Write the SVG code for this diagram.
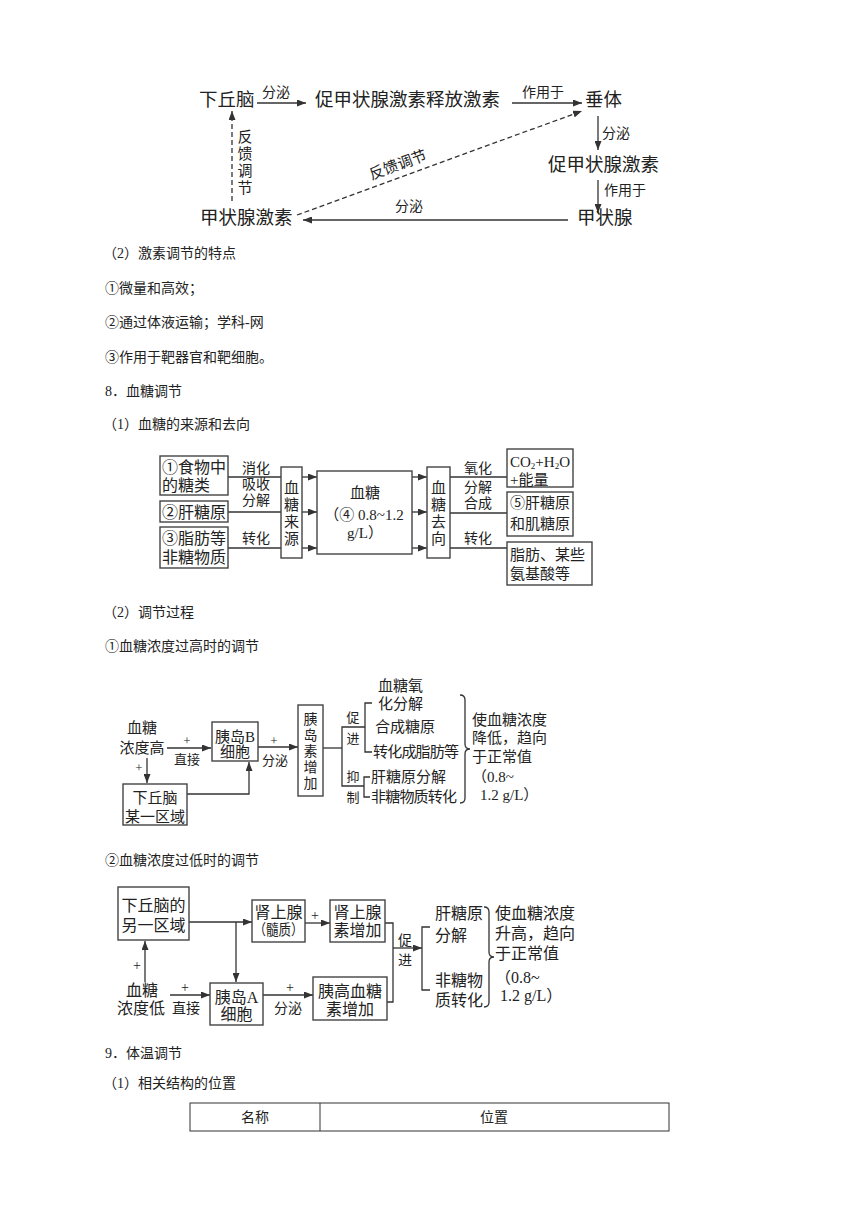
<svg xmlns="http://www.w3.org/2000/svg" width="860" height="1216" viewBox="0 0 860 1216">
<style>
text{font-family:"Liberation Serif","Noto Sans CJK SC",serif;fill:#222;dominant-baseline:central}
.t18{font-size:18.5px}
.t16{font-size:16px}
.t15{font-size:15px}
.t14{font-size:14px}
.t13{font-size:13px}
.m{text-anchor:middle}
.ln{stroke:#333;stroke-width:1.3;fill:none}
.ar{stroke:#333;stroke-width:1.3;fill:none;marker-end:url(#ah)}
.da{stroke:#333;stroke-width:1.3;fill:none;stroke-dasharray:5,3;marker-end:url(#ah)}
.bx{fill:#fff;stroke:#444;stroke-width:1.4}
</style>
<defs>
<marker id="ah" markerUnits="userSpaceOnUse" markerWidth="9" markerHeight="7" refX="9" refY="3.5" orient="auto"><path d="M0,0 L9,3.5 L0,7 z" fill="#333"/></marker>
</defs>
<rect width="860" height="1216" fill="#fff"/>

<!-- top diagram -->
<g id="connectors-top">
<line class="ar" x1="257" y1="103" x2="306" y2="103"/>
<line class="ar" x1="512" y1="103" x2="582" y2="103"/>
<line class="ar" x1="598" y1="116" x2="598" y2="150"/>
<line class="ar" x1="598" y1="180" x2="598" y2="213"/>
<line class="ar" x1="568" y1="220" x2="303" y2="220"/>
<line class="da" x1="232" y1="201" x2="232" y2="111"/>
<line class="da" x1="297" y1="215" x2="582" y2="111"/>
<text class="t14" x="262" y="92">分泌</text>
<text class="t14" x="522" y="92">作用于</text>
<text class="t14" x="602" y="133">分泌</text>
<text class="t14" x="604" y="190">作用于</text>
<text class="t14" x="395" y="206">分泌</text>
<g class="t15 m"><text x="245" y="137">反</text><text x="245" y="154">馈</text><text x="245" y="171">调</text><text x="245" y="188">节</text></g>
<text class="t15 m" x="398" y="165" transform="rotate(-20 398 165)">反馈调节</text>
</g>
<g id="n-xqn"><text class="t18" x="199" y="100">下丘脑</text></g>
<g id="n-trh"><text class="t18" x="315" y="100">促甲状腺激素释放激素</text></g>
<g id="n-ct"><text class="t18" x="585" y="100">垂体</text></g>
<g id="n-tsh"><text class="t18" x="548" y="165">促甲状腺激素</text></g>
<g id="n-jzx"><text class="t18" x="577" y="218">甲状腺</text></g>
<g id="n-jzxjs"><text class="t18" x="200" y="218">甲状腺激素</text></g>

<!-- body text -->
<g id="body">
<text class="t14" x="103" y="253">（2）激素调节的特点</text>
<text class="t14" x="105" y="288">①微量和高效；</text>
<text class="t14" x="105" y="322">②通过体液运输；学科-网</text>
<text class="t14" x="105" y="357">③作用于靶器官和靶细胞。</text>
<text class="t14" x="105" y="391">8．血糖调节</text>
<text class="t14" x="103" y="424">（1）血糖的来源和去向</text>
<text class="t14" x="103" y="612">（2）调节过程</text>
<text class="t14" x="105" y="646">①血糖浓度过高时的调节</text>
<text class="t14" x="105" y="860">②血糖浓度过低时的调节</text>
<text class="t14" x="105" y="1053">9．体温调节</text>
<text class="t14" x="103" y="1083">（1）相关结构的位置</text>
</g>

<!-- blood sugar source / destination -->
<g id="connectors-bs">
<line class="ln" x1="228" y1="477" x2="281" y2="477"/>
<line class="ln" x1="228" y1="512" x2="281" y2="512"/>
<line class="ln" x1="228" y1="548" x2="281" y2="548"/>
<line class="ar" x1="302" y1="477" x2="317" y2="477"/>
<line class="ar" x1="302" y1="512" x2="317" y2="512"/>
<line class="ar" x1="302" y1="548" x2="317" y2="548"/>
<line class="ar" x1="412" y1="477" x2="427" y2="477"/>
<line class="ar" x1="412" y1="512" x2="427" y2="512"/>
<line class="ar" x1="412" y1="548" x2="427" y2="548"/>
<line class="ln" x1="450" y1="477" x2="507" y2="477"/>
<line class="ln" x1="450" y1="513" x2="507" y2="513"/>
<line class="ln" x1="450" y1="548" x2="507" y2="548"/>
<g class="t14 m">
<text x="256" y="468">消化</text><text x="256" y="484">吸收</text><text x="256" y="500">分解</text><text x="256" y="538">转化</text>
<text x="478" y="468">氧化</text><text x="478" y="487">分解</text><text x="478" y="503">合成</text><text x="478" y="538">转化</text>
</g>
</g>
<g id="n-food"><rect class="bx" x="160" y="456" width="68" height="39"/><text class="t16" x="162" y="467">①食物中</text><text class="t16" x="162" y="485">的糖类</text></g>
<g id="n-gly"><rect class="bx" x="160" y="501" width="68" height="21"/><text class="t16" x="162" y="512">②肝糖原</text></g>
<g id="n-fat"><rect class="bx" x="160" y="527" width="68" height="41"/><text class="t16" x="162" y="538">③脂肪等</text><text class="t16" x="162" y="557">非糖物质</text></g>
<g id="n-src"><rect class="bx" x="281" y="467" width="21" height="91"/><g class="t15 m"><text x="291.5" y="488">血</text><text x="291.5" y="505">糖</text><text x="291.5" y="522">来</text><text x="291.5" y="539">源</text></g></g>
<g id="n-bs"><rect class="bx" x="317" y="471" width="95" height="83"/><g class="t15 m"><text x="365" y="493">血糖</text><text x="364" y="515">（④ 0.8~1.2</text><text x="365" y="533">g/L）</text></g></g>
<g id="n-dst"><rect class="bx" x="427" y="467" width="23" height="91"/><g class="t15 m"><text x="438.5" y="488">血</text><text x="438.5" y="505">糖</text><text x="438.5" y="522">去</text><text x="438.5" y="539">向</text></g></g>
<g id="n-co2"><rect class="bx" x="507" y="449" width="66" height="38"/><text class="t15" x="510" y="462">CO<tspan font-size="9" dy="4">2</tspan><tspan dy="-4">+H</tspan><tspan font-size="9" dy="4">2</tspan><tspan dy="-4">O</tspan></text><text class="t15" x="510" y="480">+能量</text></g>
<g id="n-gen"><rect class="bx" x="507" y="492" width="66" height="44"/><text class="t15" x="510" y="503">⑤肝糖原</text><text class="t15" x="510" y="524">和肌糖原</text></g>
<g id="n-fat2"><rect class="bx" x="507" y="542" width="85" height="43"/><text class="t15" x="510" y="555">脂肪、某些</text><text class="t15" x="510" y="574">氨基酸等</text></g>

<!-- high blood sugar -->
<g id="connectors-high">
<line class="ar" x1="167" y1="748" x2="211" y2="748"/>
<line class="ar" x1="147" y1="758" x2="147" y2="783"/>
<polyline class="ar" points="187,794 249,794 249,762"/>
<line class="ar" x1="258" y1="747" x2="298" y2="747"/>
<polyline class="ln" points="323,748 342,748"/>
<polyline class="ln" points="365,727 342,727 342,786 364,786"/>
<path class="ln" d="M372,703 H365 V752 H372"/>
<path class="ln" d="M370,777 H364 V797 H370"/>
<path class="ln" d="M460,695 q5,0 5,5 v44 q0,5 5,5 q-5,0 -5,5 v44 q0,5 -5,5"/>
<text class="t13 m" x="187" y="740">+</text>
<text class="t13 m" x="187" y="759">直接</text>
<text class="t13 m" x="139" y="767">+</text>
<text class="t13 m" x="274" y="740">+</text>
<text class="t13 m" x="275" y="760">分泌</text>
<text class="t13 m" x="353" y="717">促</text><text class="t13 m" x="353" y="738">进</text>
<text class="t13 m" x="353" y="776">抑</text><text class="t13 m" x="353" y="797">制</text>
</g>
<g id="n-hi"><text class="t15 m" x="142" y="728">血糖</text><text class="t15 m" x="142" y="748">浓度高</text></g>
<g id="n-hyp1"><rect class="bx" x="123" y="784" width="64" height="41"/><text class="t15 m" x="155" y="798">下丘脑</text><text class="t15 m" x="155" y="817">某一区域</text></g>
<g id="n-beta"><rect class="bx" x="212" y="722" width="46" height="39"/><text class="t15 m" x="235" y="737">胰岛B</text><text class="t15 m" x="235" y="752">细胞</text></g>
<g id="n-ins"><rect class="bx" x="298" y="705" width="25" height="91"/><g class="t14 m"><text x="310.5" y="719">胰</text><text x="310.5" y="735">岛</text><text x="310.5" y="751">素</text><text x="310.5" y="767">增</text><text x="310.5" y="783">加</text></g></g>
<g id="n-effects-hi" class="t15">
<text x="378" y="686">血糖氧</text>
<text x="378" y="704">化分解</text>
<text x="375" y="727">合成糖原</text>
<text x="373" y="752" textLength="86">转化成脂肪等</text>
<text x="371" y="777">肝糖原分解</text>
<text x="371" y="797" textLength="86">非糖物质转化</text>
</g>
<g id="n-res-hi" class="t15">
<text x="472" y="720">使血糖浓度</text>
<text x="472" y="738">降低，趋向</text>
<text x="472" y="757">于正常值</text>
<text x="472" y="777">（0.8~</text>
<text x="480" y="795">1.2 g/L）</text>
</g>

<!-- low blood sugar -->
<g id="connectors-low">
<line class="ar" x1="189" y1="922" x2="252" y2="922"/>
<line class="ar" x1="236" y1="922" x2="236" y2="982"/>
<line class="ar" x1="305" y1="923" x2="330" y2="923"/>
<line class="ar" x1="145" y1="982" x2="145" y2="941"/>
<line class="ar" x1="170" y1="995" x2="210" y2="995"/>
<line class="ar" x1="263" y1="995" x2="313" y2="995"/>
<polyline class="ln" points="385,923 393,923 393,1002 387,1002"/>
<line class="ar" x1="393" y1="948" x2="422" y2="948"/>
<path class="ln" d="M430,927 H422 V990 H430"/>
<path class="ln" d="M484,907 q5,0 5,5 v40 q0,5 5,5 q-5,0 -5,5 v40 q0,5 -5,5"/>
<text class="t14 m" x="315" y="915">+</text>
<text class="t14 m" x="137" y="965">+</text>
<text class="t14 m" x="185" y="987">+</text>
<text class="t14 m" x="186" y="1008">直接</text>
<text class="t14 m" x="290" y="987">+</text>
<text class="t14 m" x="288" y="1008">分泌</text>
<text class="t14 m" x="405" y="940">促</text><text class="t14 m" x="405" y="960">进</text>
</g>
<g id="n-hyp2"><rect class="bx" x="118" y="887" width="71" height="53"/><text class="t16 m" x="153.5" y="905">下丘脑的</text><text class="t16 m" x="153.5" y="925">另一区域</text></g>
<g id="n-adr"><rect class="bx" x="252" y="900" width="53" height="42"/><text class="t16 m" x="278.5" y="912">肾上腺</text><text class="t15 m" x="278.5" y="930" textLength="50" lengthAdjust="spacingAndGlyphs">（髓质）</text></g>
<g id="n-epi"><rect class="bx" x="330" y="900" width="55" height="42"/><text class="t16 m" x="357.5" y="912">肾上腺</text><text class="t16 m" x="357.5" y="930">素增加</text></g>
<g id="n-lo"><text class="t16 m" x="142" y="990">血糖</text><text class="t16 m" x="141" y="1008">浓度低</text></g>
<g id="n-alpha"><rect class="bx" x="210" y="983" width="53" height="42"/><text class="t16 m" x="236.5" y="997">胰岛A</text><text class="t16 m" x="236.5" y="1014">细胞</text></g>
<g id="n-glu"><rect class="bx" x="313" y="977" width="74" height="43"/><text class="t16 m" x="350" y="991">胰高血糖</text><text class="t16 m" x="350" y="1009">素增加</text></g>
<g id="n-effects-lo" class="t16">
<text x="435" y="913">肝糖原</text>
<text x="435" y="935">分解</text>
<text x="435" y="980">非糖物</text>
<text x="435" y="1000">质转化</text>
</g>
<g id="n-res-lo" class="t16">
<text x="495" y="913">使血糖浓度</text>
<text x="495" y="933">升高，趋向</text>
<text x="495" y="953">于正常值</text>
<text x="495" y="977">（0.8~</text>
<text x="500" y="995">1.2 g/L）</text>
</g>

<!-- table -->
<g id="table">
<rect x="190" y="1103" width="479" height="28" fill="none" stroke="#333" stroke-width="1"/>
<line x1="320" y1="1103" x2="320" y2="1131" stroke="#333" stroke-width="1"/>
<text class="t14 m" x="255" y="1117">名称</text>
<text class="t14 m" x="494" y="1117">位置</text>
</g>
</svg>
